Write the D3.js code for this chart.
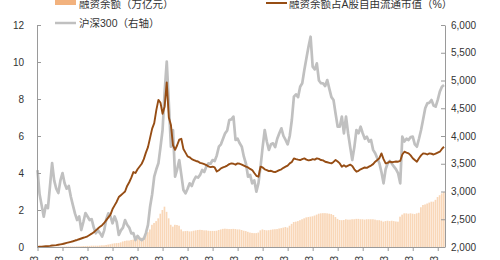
<!DOCTYPE html>
<html>
<head>
<meta charset="utf-8">
<script src="https://cdn.jsdelivr.net/npm/d3@7"></script>
<style>
body { margin: 0; background: #fff; }
text { font-family: "Liberation Sans", "Noto Sans CJK SC", sans-serif; fill: #333; }
</style>
</head>
<body>
<svg id="chart" width="500" height="260"></svg>
<script>
// monthly points, month 0 = 2010-04
const TICK_LABELS = ['2010-03', '2011-03', '2012-03', '2013-03', '2014-03', '2015-03', '2016-03', '2017-03',
    '2018-03', '2019-03', '2020-03', '2021-03', '2022-03', '2023-03', '2024-03', '2025-03', '2026-03']
const LEFT_TICKS = [0, 2, 4, 6, 8, 10, 12]
const RIGHT_TICKS = [2000, 2500, 3000, 3500, 4000, 4500, 5000, 5500, 6000]

// 融资余额（万亿元）
const balance = [
    0.00, 0.01, 0.01, 0.01, 0.01, 0.01, 0.01, 0.01, 0.01,
    0.02, 0.02, 0.02, 0.02, 0.02, 0.03, 0.03, 0.03, 0.03, 0.03, 0.04, 0.04,
    0.04, 0.05, 0.05, 0.06, 0.06, 0.07, 0.07, 0.07, 0.07, 0.08, 0.09, 0.09,
    0.11, 0.13, 0.15, 0.18, 0.20, 0.21, 0.22, 0.25, 0.30, 0.33, 0.35, 0.35,
    0.38, 0.40, 0.42, 0.45, 0.48, 0.50, 0.55, 0.65, 0.80, 0.95, 1.20, 1.30,
    1.40, 1.55, 1.80, 2.00, 2.18, 1.90, 1.55, 1.20, 1.10, 1.20, 1.19, 1.15,
    0.95, 0.85, 0.86, 0.87, 0.84, 0.85, 0.88, 0.90, 0.92, 0.93, 0.92, 0.90,
    0.90, 0.88, 0.87, 0.87, 0.87, 0.88, 0.92, 0.95, 0.98, 0.99, 0.98, 0.97,
    0.97, 0.98, 0.97, 0.95, 0.95, 0.92, 0.88, 0.86, 0.82, 0.78, 0.76, 0.75,
    0.75, 0.78, 0.90, 0.95, 0.92, 0.90, 0.91, 0.93, 0.95, 0.96, 0.97, 1.00,
    1.02, 1.05, 1.08, 1.05, 1.15, 1.25, 1.35, 1.37, 1.40, 1.45, 1.50, 1.55,
    1.60, 1.62, 1.64, 1.66, 1.70, 1.75, 1.80, 1.82, 1.83, 1.83, 1.82, 1.80,
    1.78, 1.73, 1.62, 1.52, 1.46, 1.45, 1.46, 1.50, 1.48, 1.48, 1.50, 1.50,
    1.52, 1.52, 1.50, 1.50, 1.48, 1.50, 1.50, 1.50, 1.50, 1.48, 1.45, 1.45,
    1.42, 1.37, 1.40, 1.42, 1.40, 1.42, 1.40, 1.38, 1.37, 1.64, 1.75, 1.82,
    1.82, 1.80, 1.82, 1.80, 1.78, 1.82, 1.85, 2.15, 2.27, 2.30, 2.35, 2.40,
    2.45, 2.45, 2.55, 2.70, 2.80, 2.90, 2.97
]

// 融资余额占A股自由流通市值（%）
const ratio = [
    0.00, 0.01, 0.02, 0.03, 0.04, 0.05, 0.06, 0.08, 0.09, 0.10, 0.12, 0.14,
    0.16, 0.19, 0.22, 0.25, 0.28, 0.31, 0.35, 0.38, 0.42, 0.46, 0.50, 0.53,
    0.58, 0.65, 0.72, 0.80, 0.90, 1.00, 1.10, 1.18, 1.30, 1.45, 1.60, 1.75,
    2.05, 2.25, 2.45, 2.70, 2.80, 2.90, 3.00, 3.30, 3.50, 3.75, 4.05, 4.00,
    4.20, 4.35, 4.50, 4.75, 5.10, 5.40, 5.90, 6.40, 6.70, 7.40, 7.95, 7.80,
    7.20, 7.60, 8.90, 7.00, 6.60, 5.50, 5.25, 5.50, 5.80, 5.85, 5.30, 5.10,
    4.90, 4.85, 4.75, 4.70, 4.65, 4.62, 4.55, 4.52, 4.48, 4.43, 4.36, 4.32,
    4.34, 4.30, 4.08, 4.15, 4.25, 4.30, 4.34, 4.40, 4.48, 4.52, 4.50, 4.45,
    4.52, 4.50, 4.45, 4.40, 4.34, 4.30, 4.22, 4.16, 4.00, 3.85, 3.80, 4.34,
    4.30, 4.20, 4.16, 4.10, 4.12, 4.07, 4.05, 4.10, 4.16, 4.20, 4.28, 4.34,
    4.40, 4.52, 4.60, 4.79, 4.75, 4.72, 4.70, 4.75, 4.79, 4.72, 4.68, 4.70,
    4.75, 4.72, 4.79, 4.76, 4.70, 4.68, 4.61, 4.58, 4.55, 4.52, 4.60, 4.70,
    4.62, 4.52, 4.34, 4.42, 4.34, 4.40, 4.45, 4.38, 4.20, 4.07, 4.12, 4.20,
    4.25, 4.30, 4.28, 4.34, 4.40, 4.48, 4.61, 4.70, 4.80, 5.06, 4.75, 4.52,
    4.55, 4.62, 4.58, 4.60, 4.62, 4.61, 4.65, 5.00, 5.15, 5.10, 5.06, 4.95,
    4.80, 4.70, 4.61, 4.80, 4.95, 5.06, 5.05, 5.00, 5.06, 5.04, 5.00, 5.05,
    5.10, 5.15, 5.30, 5.42
]

// 沪深300（右轴）
const csi300 = [
    3387, 2950, 2750, 2546, 2750, 2700, 3100, 3513, 3200, 3050, 2973, 3200,
    3333, 3150, 3050, 3100, 2906, 2750, 2600, 2486, 2550, 2306, 2450, 2612,
    2550, 2486, 2500, 2350, 2246, 2300, 2250, 2186, 2300, 2500, 2607, 2550,
    2427, 2550, 2450, 2216, 2300, 2350, 2486, 2400, 2350, 2246, 2250, 2126,
    2200, 2150, 2126, 2150, 2250, 2400, 2726, 2950, 3267, 3400, 3508, 3800,
    4108, 4800, 5339, 4595, 3807, 4108, 3267, 3400, 3567, 3300, 3027, 2967,
    3050, 3147, 3100, 3200, 3267, 3250, 3300, 3387, 3350, 3450, 3508, 3500,
    3567, 3550, 3650, 3807, 3850, 3950, 4048, 4100, 4288, 4300, 4348, 3928,
    3950, 3868, 3807, 3627, 3500, 3267, 3300, 3147, 3200, 2997, 3150, 3447,
    3800, 4108, 3900, 3748, 3850, 3868, 3800, 3950, 4048, 4138, 4000, 3928,
    3850, 4000, 4288, 4708, 4750, 4700, 4888, 4950, 5189, 5400, 5609, 5789,
    5249, 5200, 5309, 5000, 4950, 4948, 4900, 5008, 4850, 4700, 4648, 4400,
    4168, 4168, 4350, 4048, 4348, 4050, 3800, 3567, 3800, 4108, 4050, 4168,
    4050, 3950, 3988, 3900, 3928, 3750, 3688, 3600, 3508, 3350, 3147, 3400,
    3508, 3550, 3500, 3447, 3400, 3327, 3147, 3988, 3900, 3950, 3928, 3980,
    3988, 3850, 3807, 3950, 4108, 4300, 4500, 4588, 4600, 4648, 4550, 4528,
    4650, 4800, 4888, 4918
]

const svg = d3.select('#chart')
const axisColor = '#9a9a9a'

const xScale = d3.scaleLinear().domain([0, 195]).range([37.5, 444])
const yLeft = d3.scaleLinear().domain([0, 12]).range([247, 25])
const yRight = d3.scaleLinear().domain([2000, 6000]).range([247, 25])
const step = xScale(1) - xScale(0)

// bars
svg.append('g').selectAll('rect')
    .data(balance)
    .enter()
    .append('rect')
    .attr('x', (d, i) => xScale(i) - step / 2)
    .attr('width', step - 0.4)
    .attr('y', d => yLeft(d))
    .attr('height', d => yLeft(0) - yLeft(d))
    .attr('fill', '#f9d7b8')

// CSI 300 line
svg.append('path')
    .datum(csi300)
    .attr('fill', 'none')
    .attr('stroke', '#c0c0c0')
    .attr('stroke-width', 2.7)
    .attr('stroke-linejoin', 'round')
    .attr('d', d3.line().x((d, i) => xScale(i)).y(d => yRight(d)))

// ratio line
svg.append('path')
    .datum(ratio)
    .attr('fill', 'none')
    .attr('stroke', '#964d14')
    .attr('stroke-width', 1.9)
    .attr('stroke-linejoin', 'round')
    .attr('d', d3.line().x((d, i) => xScale(i)).y(d => yLeft(d)))

// axes
const tickMonths = TICK_LABELS.map((d, i) => i * 12)
const xAxis = svg.append('g')
    .attr('transform', `translate(0, ${yLeft(0)})`)
    .call(d3.axisBottom(xScale).tickValues(tickMonths).tickSize(4).tickSizeOuter(0)
        .tickFormat((d, i) => TICK_LABELS[i]))
xAxis.selectAll('text')
    .attr('text-anchor', 'end')
    .attr('transform', 'translate(0, 9) rotate(-90)')
    .attr('x', 0).attr('y', 0).attr('dy', 0)

const leftAxis = svg.append('g')
    .attr('transform', 'translate(37, 0)')
    .call(d3.axisLeft(yLeft).tickValues(LEFT_TICKS).tickSize(-4).tickSizeOuter(0).tickPadding(13))

const rightAxis = svg.append('g')
    .attr('transform', 'translate(445, 0)')
    .call(d3.axisRight(yRight).tickValues(RIGHT_TICKS).tickSize(-4).tickSizeOuter(0).tickPadding(6)
        .tickFormat(d3.format(',')))

;[xAxis, leftAxis, rightAxis].forEach(a => {
    a.attr('font-size', 10).attr('font-family', null)
    a.selectAll('path, line').attr('stroke', axisColor)
    a.selectAll('text').attr('fill', '#333')
})
xAxis.select('.domain').attr('d', 'M37,0.5H445')

// legend
const legend = svg.append('g').attr('font-size', 10.5)
legend.append('rect').attr('x', 55).attr('y', -4).attr('width', 21).attr('height', 9).attr('fill', '#f2b27e')
legend.append('text').attr('x', 79).attr('y', 7.5).text('融资余额（万亿元）')
legend.append('line').attr('x1', 55).attr('x2', 76).attr('y1', 23).attr('y2', 23)
    .attr('stroke', '#c0c0c0').attr('stroke-width', 2.5)
legend.append('text').attr('x', 79).attr('y', 27).text('沪深300（右轴）')
legend.append('line').attr('x1', 266).attr('x2', 287).attr('y1', 3).attr('y2', 3)
    .attr('stroke', '#964d14').attr('stroke-width', 2)
legend.append('text').attr('x', 289).attr('y', 7.5).text('融资余额占A股自由流通市值（%）')
</script>
</body>
</html>
